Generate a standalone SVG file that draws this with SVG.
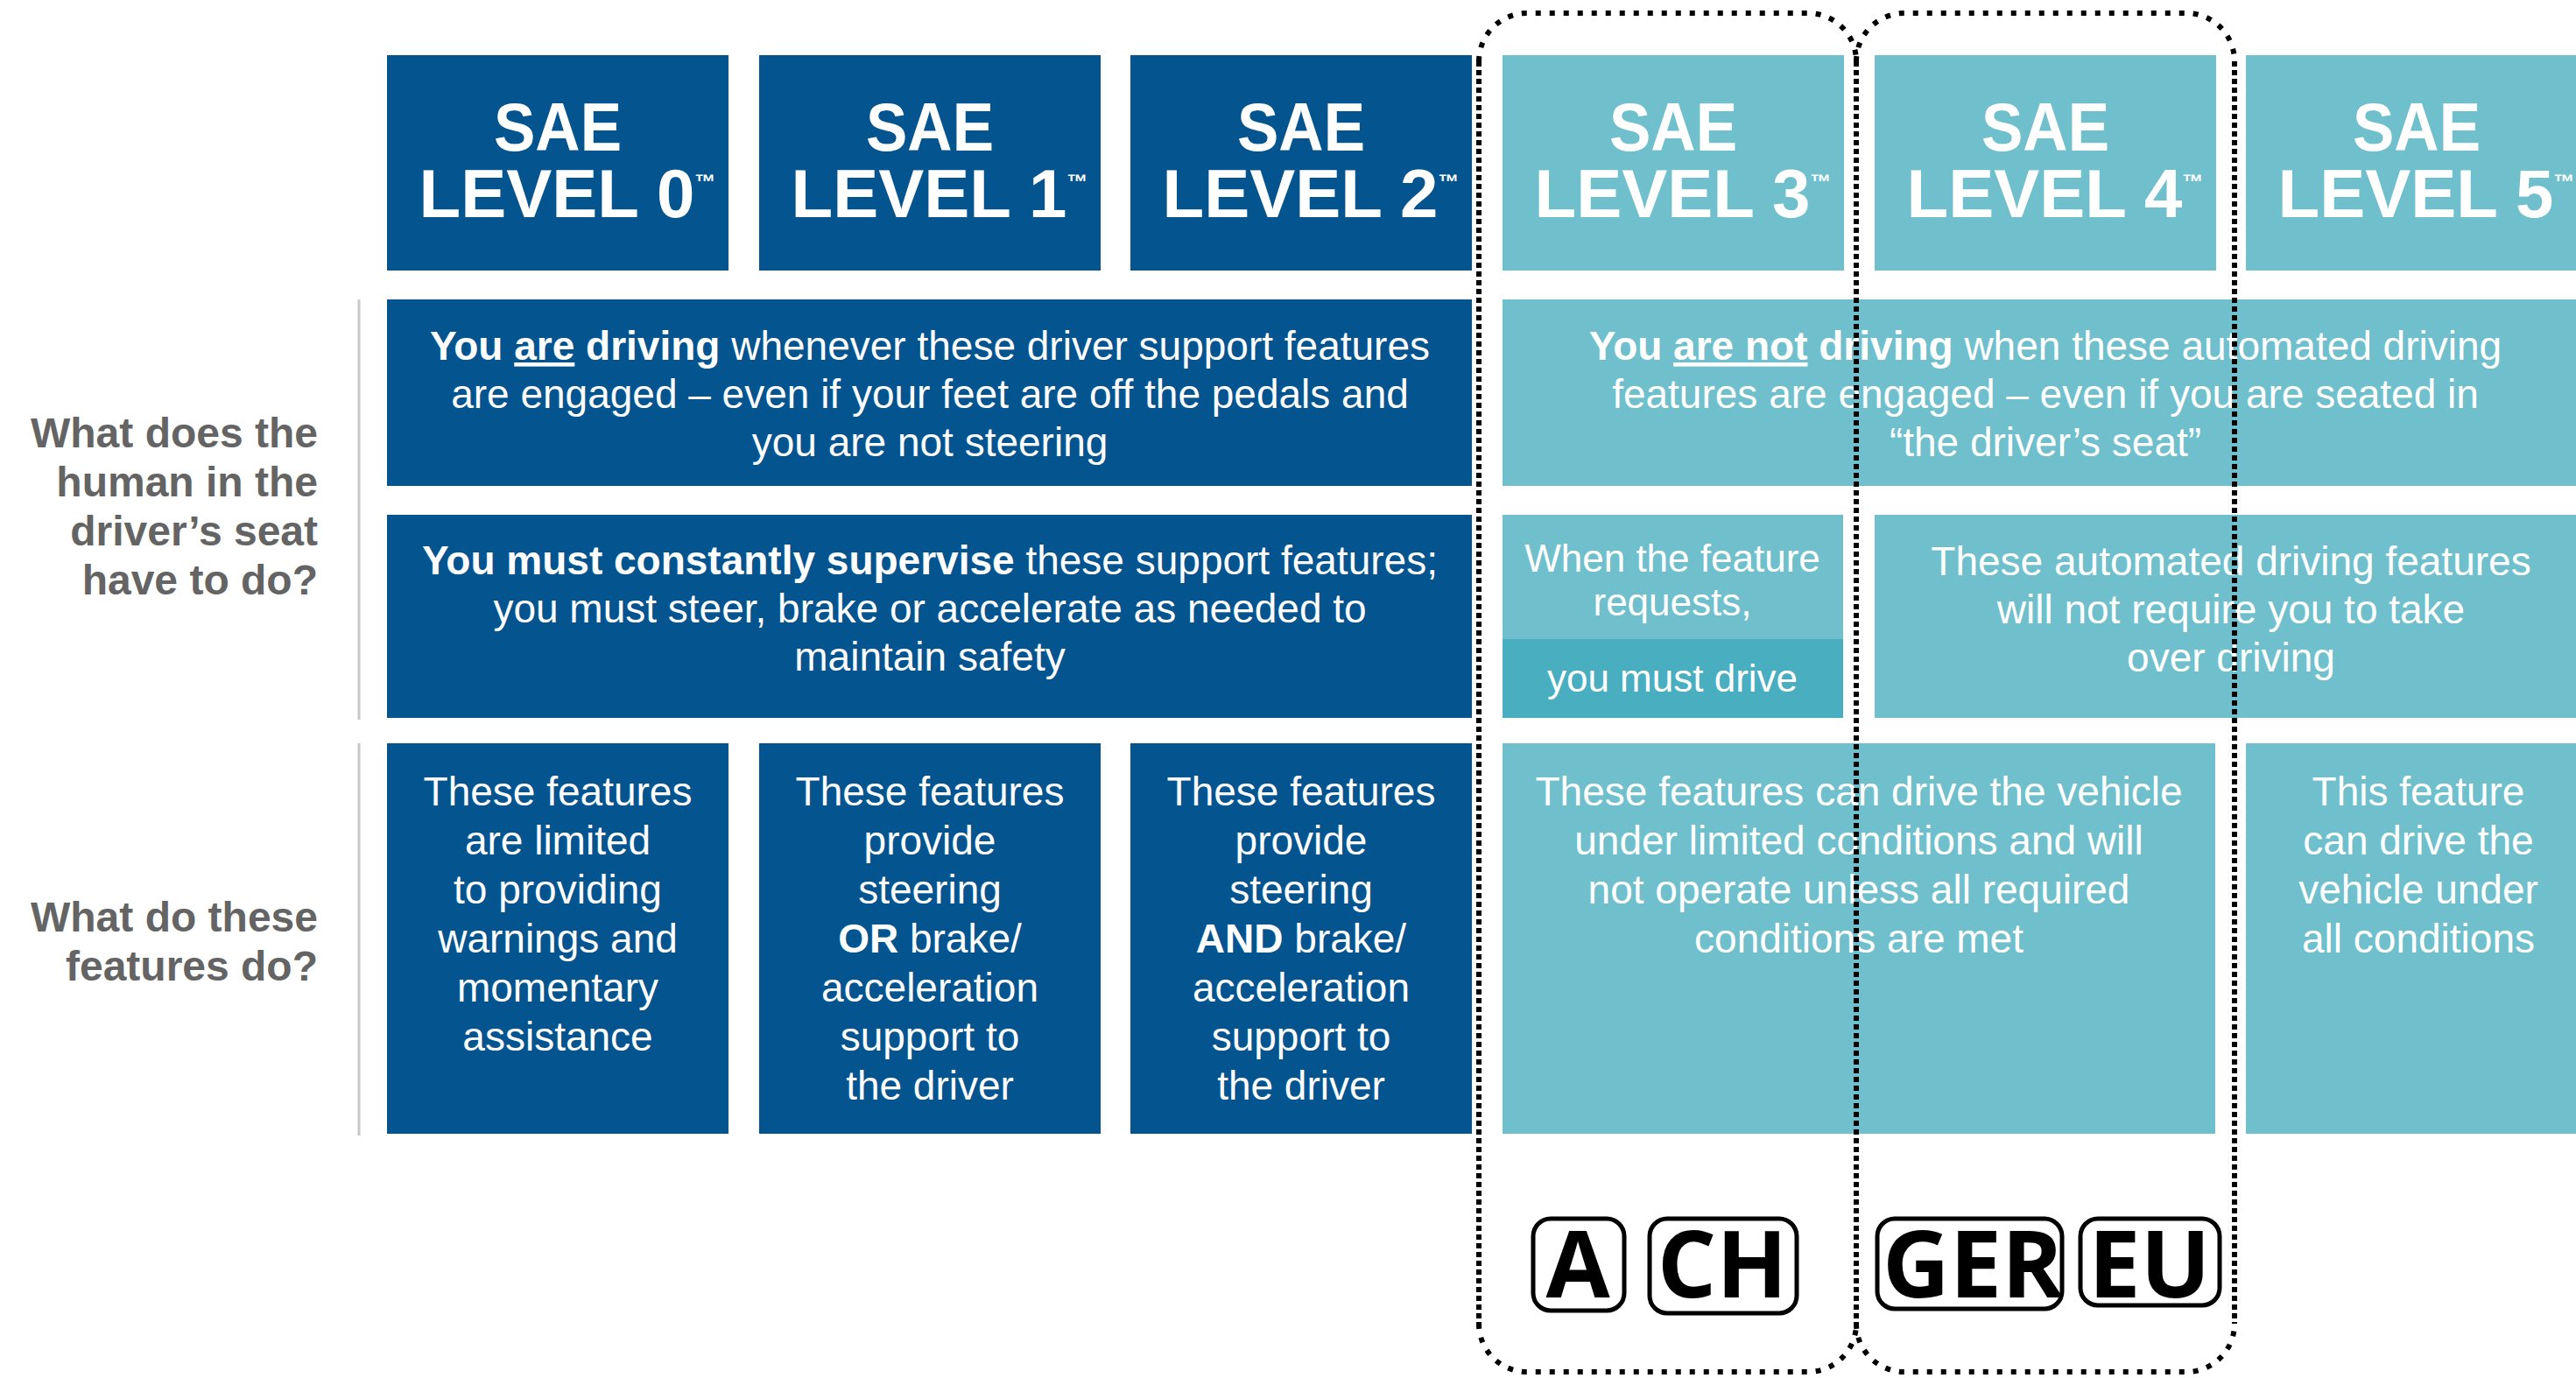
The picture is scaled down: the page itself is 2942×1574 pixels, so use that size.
<svg xmlns="http://www.w3.org/2000/svg" width="2942" height="1574" viewBox="0 0 2942 1574">
<style>
.blue{fill:#04548f}
.teal{fill:#70bfcc}
.teal2{fill:#48aec0}
.hdr{font-family:"Liberation Sans",Arial,sans-serif;font-weight:700;font-size:78px;fill:#fff;text-anchor:middle}
.tm{font-size:24px}
.body{font-family:"Liberation Sans",Arial,sans-serif;font-size:46px;fill:#fff;text-anchor:middle}
.sm{font-size:44px}
.b{font-weight:700}
.u{text-decoration:underline}
.lbl{font-family:"Liberation Sans",Arial,sans-serif;font-weight:700;font-size:48px;fill:#646464;text-anchor:end}
.axis{stroke:#c8c8c8;stroke-width:3}
.dh{fill:none;stroke:#000;stroke-width:6;stroke-dasharray:6 10}
.dv{fill:none;stroke:#000;stroke-width:6;stroke-dasharray:6 4}
.badge rect{fill:#fff;stroke:#000;stroke-width:5}
.badge text{font-family:"Open Sans","Liberation Sans",sans-serif;font-weight:700;font-size:106px;text-anchor:middle;fill:#000}
</style>
<rect width="2942" height="1574" fill="#fff"/>

<g id="labels">
  <line class="axis" x1="410" y1="342" x2="410" y2="822"/>
  <line class="axis" x1="410" y1="849" x2="410" y2="1297"/>
  <text class="lbl"><tspan x="363" y="511">What does the</tspan><tspan x="363" y="567">human in the</tspan><tspan x="363" y="623">driver’s seat</tspan><tspan x="363" y="679">have to do?</tspan></text>
  <text class="lbl"><tspan x="363" y="1064">What do these</tspan><tspan x="363" y="1120">features do?</tspan></text>
</g>

<g id="level0">
  <rect class="blue" x="442" y="63" width="390" height="246"/>
  <text class="hdr" x="637" y="172" textLength="146" lengthAdjust="spacingAndGlyphs">SAE</text>
  <text class="hdr" x="648" y="248">LEVEL 0<tspan class="tm" dy="-32">™</tspan></text>
</g>
<g id="level1">
  <rect class="blue" x="867" y="63" width="390" height="246"/>
  <text class="hdr" x="1062" y="172" textLength="146" lengthAdjust="spacingAndGlyphs">SAE</text>
  <text class="hdr" x="1073" y="248">LEVEL 1<tspan class="tm" dy="-32">™</tspan></text>
</g>
<g id="level2">
  <rect class="blue" x="1291" y="63" width="390" height="246"/>
  <text class="hdr" x="1486" y="172" textLength="146" lengthAdjust="spacingAndGlyphs">SAE</text>
  <text class="hdr" x="1497" y="248">LEVEL 2<tspan class="tm" dy="-32">™</tspan></text>
</g>
<g id="level3">
  <rect class="teal" x="1716" y="63" width="390" height="246"/>
  <text class="hdr" x="1911" y="172" textLength="146" lengthAdjust="spacingAndGlyphs">SAE</text>
  <text class="hdr" x="1922" y="248">LEVEL 3<tspan class="tm" dy="-32">™</tspan></text>
</g>
<g id="level4">
  <rect class="teal" x="2141" y="63" width="390" height="246"/>
  <text class="hdr" x="2336" y="172" textLength="146" lengthAdjust="spacingAndGlyphs">SAE</text>
  <text class="hdr" x="2347" y="248">LEVEL 4<tspan class="tm" dy="-32">™</tspan></text>
</g>
<g id="level5">
  <rect class="teal" x="2565" y="63" width="390" height="246"/>
  <text class="hdr" x="2760" y="172" textLength="146" lengthAdjust="spacingAndGlyphs">SAE</text>
  <text class="hdr" x="2771" y="248">LEVEL 5<tspan class="tm" dy="-32">™</tspan></text>
</g>

<g id="driving-support">
  <rect class="blue" x="442" y="342" width="1239" height="213"/>
  <text class="body"><tspan x="1062" y="411"><tspan class="b">You <tspan class="u">are</tspan> driving</tspan> whenever these driver support features</tspan><tspan x="1062" y="466">are engaged – even if your feet are off the pedals and</tspan><tspan x="1062" y="521">you are not steering</tspan></text>
</g>
<g id="driving-automated">
  <rect class="teal" x="1716" y="342" width="1239" height="213"/>
  <text class="body"><tspan x="2336" y="411"><tspan class="b">You <tspan class="u">are not</tspan> driving</tspan> when these automated driving</tspan><tspan x="2336" y="466">features are engaged – even if you are seated in</tspan><tspan x="2336" y="521">“the driver’s seat”</tspan></text>
</g>
<g id="supervise">
  <rect class="blue" x="442" y="588" width="1239" height="232"/>
  <text class="body"><tspan x="1062" y="656"><tspan class="b">You must constantly supervise</tspan> these support features;</tspan><tspan x="1062" y="711">you must steer, brake or accelerate as needed to</tspan><tspan x="1062" y="766">maintain safety</tspan></text>
</g>
<g id="feature-requests">
  <rect class="teal" x="1716" y="588" width="389" height="232"/>
  <rect class="teal2" x="1716" y="730" width="389" height="90"/>
  <text class="body sm"><tspan x="1910" y="653">When the feature</tspan><tspan x="1910" y="703">requests,</tspan><tspan x="1910" y="790">you must drive</tspan></text>
</g>
<g id="no-takeover">
  <rect class="teal" x="2141" y="588" width="814" height="232"/>
  <text class="body"><tspan x="2548" y="657">These automated driving features</tspan><tspan x="2548" y="712">will not require you to take</tspan><tspan x="2548" y="767">over driving</tspan></text>
</g>

<g id="feat0">
  <rect class="blue" x="442" y="849" width="390" height="446"/>
  <text class="body"><tspan x="637" y="920">These features</tspan><tspan x="637" y="976">are limited</tspan><tspan x="637" y="1032">to providing</tspan><tspan x="637" y="1088">warnings and</tspan><tspan x="637" y="1144">momentary</tspan><tspan x="637" y="1200">assistance</tspan></text>
</g>
<g id="feat1">
  <rect class="blue" x="867" y="849" width="390" height="446"/>
  <text class="body"><tspan x="1062" y="920">These features</tspan><tspan x="1062" y="976">provide</tspan><tspan x="1062" y="1032">steering</tspan><tspan x="1062" y="1088"><tspan class="b">OR</tspan> brake/</tspan><tspan x="1062" y="1144">acceleration</tspan><tspan x="1062" y="1200">support to</tspan><tspan x="1062" y="1256">the driver</tspan></text>
</g>
<g id="feat2">
  <rect class="blue" x="1291" y="849" width="390" height="446"/>
  <text class="body"><tspan x="1486" y="920">These features</tspan><tspan x="1486" y="976">provide</tspan><tspan x="1486" y="1032">steering</tspan><tspan x="1486" y="1088"><tspan class="b">AND</tspan> brake/</tspan><tspan x="1486" y="1144">acceleration</tspan><tspan x="1486" y="1200">support to</tspan><tspan x="1486" y="1256">the driver</tspan></text>
</g>
<g id="feat34">
  <rect class="teal" x="1716" y="849" width="814" height="446"/>
  <text class="body"><tspan x="2123" y="920">These features can drive the vehicle</tspan><tspan x="2123" y="976">under limited conditions and will</tspan><tspan x="2123" y="1032">not operate unless all required</tspan><tspan x="2123" y="1088">conditions are met</tspan></text>
</g>
<g id="feat5">
  <rect class="teal" x="2565" y="849" width="390" height="446"/>
  <text class="body"><tspan x="2762" y="920">This feature</tspan><tspan x="2762" y="976">can drive the</tspan><tspan x="2762" y="1032">vehicle under</tspan><tspan x="2762" y="1088">all conditions</tspan></text>
</g>

<g id="badges" class="badge">
  <g id="badge-A"><rect x="1751" y="1392" width="104" height="105" rx="20"/><text x="1802" y="1482">A</text></g>
  <g id="badge-CH"><rect x="1884" y="1392" width="168" height="108" rx="20"/><text x="1967" y="1482">CH</text></g>
  <g id="badge-GER"><rect x="2144" y="1392" width="211" height="103" rx="20"/><text x="2253" y="1482">GER</text></g>
  <g id="badge-EU"><rect x="2376" y="1392" width="159" height="99" rx="20"/><text x="2455" y="1482">EU</text></g>
</g>

<g id="groups">
  <g id="group-A-CH">
    <path class="dh" d="M1689,70 A55,55 0 0 1 1744,15 L2065,15 A55,55 0 0 1 2120,70"/>
    <path class="dh" d="M1689,1512 A55,55 0 0 0 1744,1567 L2065,1567 A55,55 0 0 0 2120,1512"/>
    <line class="dv" x1="1689" y1="70" x2="1689" y2="1512"/>
    <line class="dv" x1="2120" y1="70" x2="2120" y2="1512"/>
  </g>
  <g id="group-GER-EU">
    <path class="dh" d="M2120,70 A55,55 0 0 1 2175,15 L2497,15 A55,55 0 0 1 2552,70"/>
    <path class="dh" d="M2120,1512 A55,55 0 0 0 2175,1567 L2497,1567 A55,55 0 0 0 2552,1512"/>
    <line class="dv" x1="2552" y1="70" x2="2552" y2="1512"/>
  </g>
</g>
</svg>
